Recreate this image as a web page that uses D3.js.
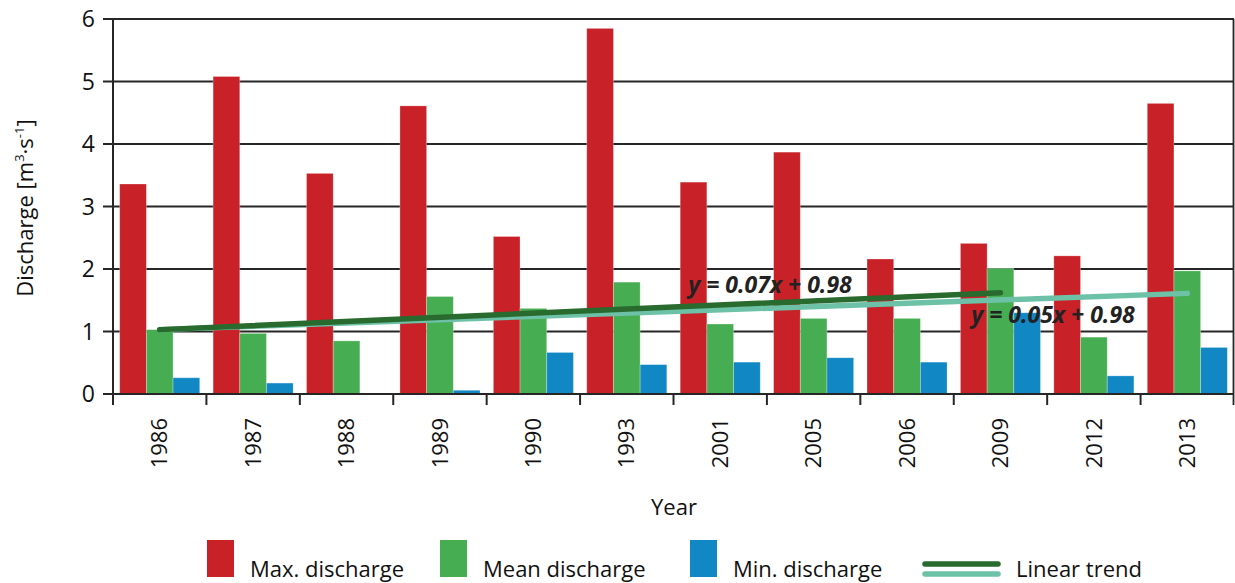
<!DOCTYPE html>
<html>
<head>
<meta charset="utf-8">
<script src="https://cdn.jsdelivr.net/npm/d3@7"></script>
<style>
  body { margin: 0; background: #fff; }
  svg { display: block; font-family: "Open Sans", "Noto Sans", sans-serif; }
</style>
</head>
<body>
<svg></svg>
<script>
const width = 1235;
const height = 583;

// data
const years = ["1986", "1987", "1988", "1989", "1990", "1993", "2001", "2005", "2006", "2009", "2012", "2013"];
const maxQ  = [3.36, 5.08, 3.53, 4.61, 2.52, 5.85, 3.39, 3.87, 2.16, 2.41, 2.21, 4.65];
const meanQ = [1.03, 0.97, 0.85, 1.56, 1.37, 1.79, 1.12, 1.21, 1.21, 2.01, 0.91, 1.97];
const minQ  = [0.26, 0.175, 0, 0.06, 0.665, 0.47, 0.51, 0.58, 0.51, 1.30, 0.29, 0.745];
const yTicks = [0, 1, 2, 3, 4, 5, 6];

// trend lines (end points as drawn)
const trendYearsA = ["1986", "2009"];
const trendValsA  = [1.03, 1.62];
const trendYearsB = ["1986", "2013"];
const trendValsB  = [1.03, 1.61];

const seriesNames = ["Max. discharge", "Mean discharge", "Min. discharge"];
const seriesColors = ["#c82127", "#47ad52", "#1187c4"];
const trendColors = ["#296a2e", "#6cc1a7"];

const margin = {top: 19, right: 1, bottom: 189, left: 113};

const svg = d3.select("svg")
    .attr("width", width)
    .attr("height", height)
    .attr("viewBox", [0, 0, width, height]);

const x = d3.scaleBand()
    .domain(years)
    .range([margin.left, width - margin.right])
    .paddingInner(0.143)
    .paddingOuter(0.0715);

const xCat = d3.scaleBand()
    .domain(years)
    .range([margin.left, width - margin.right]);

const xSub = d3.scaleBand()
    .domain([0, 1, 2])
    .range([0, x.bandwidth()]);

const y = d3.scaleLinear()
    .domain([0, 6])
    .range([height - margin.bottom, margin.top]);

const x0 = margin.left, x1 = width - margin.right;

// gridlines
svg.append("g")
  .selectAll("line")
  .data(yTicks)
  .join("line")
    .attr("x1", x0 - 10)
    .attr("x2", x1)
    .attr("y1", d => y(d))
    .attr("y2", d => y(d))
    .attr("stroke", "#262626")
    .attr("stroke-width", 1.8);

// y tick labels
svg.append("g")
  .selectAll("text")
  .data(yTicks)
  .join("text")
    .attr("x", 95)
    .attr("y", d => y(d))
    .attr("dy", "0.35em")
    .attr("text-anchor", "end")
    .attr("font-size", 23)
    .attr("fill", "#111")
    .text(d => d);

// bars
const series = [maxQ, meanQ, minQ];
const groups = svg.append("g")
  .selectAll("g")
  .data(years)
  .join("g")
    .attr("transform", d => `translate(${x(d)},0)`);

groups.selectAll("rect")
  .data((d, i) => series.map((s, k) => ({k: k, v: s[i]})))
  .join("rect")
    .attr("x", d => xSub(d.k))
    .attr("width", xSub.bandwidth())
    .attr("y", d => y(d.v))
    .attr("height", d => y(0) - y(d.v))
    .attr("fill", d => seriesColors[d.k])
    .attr("stroke", "rgba(255,255,255,0.35)")
    .attr("stroke-width", 0.8);

// axes frame
svg.append("line")
    .attr("x1", x0).attr("x2", x0)
    .attr("y1", y(6)).attr("y2", y(0) + 11)
    .attr("stroke", "#262626").attr("stroke-width", 2);
svg.append("line")
    .attr("x1", x1 - 0.5).attr("x2", x1 - 0.5)
    .attr("y1", y(6)).attr("y2", y(0) + 11)
    .attr("stroke", "#262626").attr("stroke-width", 1.8);
svg.append("line")
    .attr("x1", x0 - 10).attr("x2", x1)
    .attr("y1", y(0)).attr("y2", y(0))
    .attr("stroke", "#262626").attr("stroke-width", 2);

// x ticks at category boundaries
svg.append("g")
  .selectAll("line")
  .data(years.slice(1))
  .join("line")
    .attr("x1", d => xCat(d))
    .attr("x2", d => xCat(d))
    .attr("y1", y(0))
    .attr("y2", y(0) + 11)
    .attr("stroke", "#262626")
    .attr("stroke-width", 2);

// x tick labels
svg.append("g")
  .selectAll("text")
  .data(years)
  .join("text")
    .attr("transform", d => `translate(${xCat(d) + xCat.bandwidth() / 2},${y(0) + 24}) rotate(-90)`)
    .attr("text-anchor", "end")
    .attr("dy", "0.35em")
    .attr("font-size", 22)
    .attr("fill", "#111")
    .text(d => d);

// trend lines
const trendLine = d3.line()
    .x(d => xCat(d[0]) + xCat.bandwidth() / 2)
    .y(d => y(d[1]));

svg.append("path")
    .attr("d", trendLine(d3.zip(trendYearsB, trendValsB)))
    .attr("fill", "none")
    .attr("stroke", trendColors[1])
    .attr("stroke-width", 5.5)
    .attr("stroke-linecap", "round");

svg.append("path")
    .attr("d", trendLine(d3.zip(trendYearsA, trendValsA)))
    .attr("fill", "none")
    .attr("stroke", trendColors[0])
    .attr("stroke-width", 5.5)
    .attr("stroke-linecap", "round");

// equations
svg.append("text")
    .attr("x", 770).attr("y", 293)
    .attr("text-anchor", "middle")
    .attr("font-size", 23)
    .attr("font-weight", "bold")
    .attr("font-style", "italic")
    .attr("fill", "#222")
    .text("y = 0.07x + 0.98");

svg.append("text")
    .attr("x", 1053).attr("y", 323)
    .attr("text-anchor", "middle")
    .attr("font-size", 23)
    .attr("font-weight", "bold")
    .attr("font-style", "italic")
    .attr("fill", "#222")
    .text("y = 0.05x + 0.98");

// axis titles
const yTitle = svg.append("text")
    .attr("transform", `translate(33,208) rotate(-90)`)
    .attr("text-anchor", "middle")
    .attr("font-size", 22)
    .attr("fill", "#111");
yTitle.append("tspan").text("Discharge [m");
yTitle.append("tspan").attr("font-size", 13).attr("dy", -9).text("3");
yTitle.append("tspan").attr("dy", 9).text("·s");
yTitle.append("tspan").attr("font-size", 13).attr("dy", -9).text("-1");
yTitle.append("tspan").attr("dy", 9).text("]");

svg.append("text")
    .attr("x", 674).attr("y", 515)
    .attr("text-anchor", "middle")
    .attr("font-size", 22)
    .attr("fill", "#111")
    .text("Year");

// legend
const legendX = [207, 440, 690];
const legend = svg.append("g");
seriesNames.forEach((name, i) => {
  legend.append("rect")
      .attr("x", legendX[i]).attr("y", 540)
      .attr("width", 27).attr("height", 37)
      .attr("fill", seriesColors[i]);
  legend.append("text")
      .attr("x", legendX[i] + 43).attr("y", 577)
      .attr("font-size", 22)
      .attr("fill", "#111")
      .text(name);
});
trendColors.forEach((c, i) => {
  legend.append("line")
      .attr("x1", 925).attr("x2", 998)
      .attr("y1", 564 + i * 10).attr("y2", 564 + i * 10)
      .attr("stroke", c)
      .attr("stroke-width", 5.5)
      .attr("stroke-linecap", "round");
});
legend.append("text")
    .attr("x", 1016).attr("y", 577)
    .attr("font-size", 22)
    .attr("fill", "#111")
    .text("Linear trend");
</script>
</body>
</html>
